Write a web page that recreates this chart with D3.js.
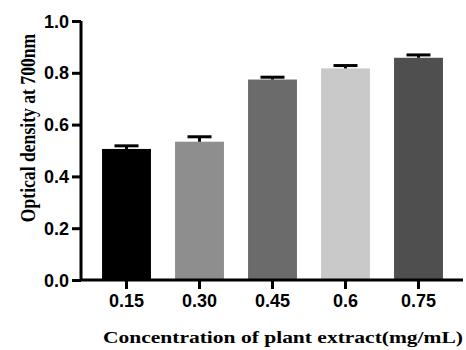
<!DOCTYPE html>
<html>
<head>
<meta charset="utf-8">
<script src="https://cdn.jsdelivr.net/npm/d3@7"></script>
<style>
  body { margin: 0; background: #fff; }
  .tick text { font-family: "Liberation Sans", Arial, sans-serif; font-weight: bold; font-size: 18px; fill: #000; }
  .title { font-family: "Liberation Serif", "Times New Roman", serif; font-weight: bold; font-size: 21.5px; }
</style>
</head>
<body>
<div id="chart"></div>
<script>
const categories = ['0.15', '0.30', '0.45', '0.6', '0.75'];
const values = [0.506, 0.534, 0.774, 0.817, 0.858];
const errors = [0.012, 0.019, 0.009, 0.011, 0.011];
const colors = ['#000000', '#8e8e8e', '#6b6b6b', '#c9c9c9', '#4f4f4f'];
const yTicks = [0, 0.2, 0.4, 0.6, 0.8, 1.0];

const width = 466;
const height = 350;
const plotLeft = 81;
const plotRight = 463;
const plotTop = 21;
const plotBottom = 280;

const svg = d3.select('#chart').append('svg').attr('width', width).attr('height', height);

const x = d3.scaleBand().domain(categories).range([plotLeft + 9, plotRight - 8]).paddingInner(0.33).paddingOuter(0.165);
const y = d3.scaleLinear().domain([0, 1]).range([plotBottom, plotTop]);

// bars
svg.selectAll('rect.bar')
  .data(values)
  .enter()
  .append('rect')
  .attr('class', 'bar')
  .attr('x', (d, i) => x(categories[i]))
  .attr('y', (d) => y(d))
  .attr('width', x.bandwidth())
  .attr('height', (d) => y(0) - y(d))
  .attr('fill', (d, i) => colors[i]);

// error bars (upper only)
const err = svg.selectAll('g.err')
  .data(values)
  .enter()
  .append('g')
  .attr('class', 'err')
  .attr('transform', (d, i) => 'translate(' + (x(categories[i]) + x.bandwidth() / 2) + ',0)');

err.append('line')
  .attr('x1', 0).attr('x2', 0)
  .attr('y1', (d) => y(d))
  .attr('y2', (d, i) => y(d + errors[i]))
  .attr('stroke', '#000').attr('stroke-width', 3);

err.append('line')
  .attr('x1', -12).attr('x2', 12)
  .attr('y1', (d, i) => y(d + errors[i]))
  .attr('y2', (d, i) => y(d + errors[i]))
  .attr('stroke', '#000').attr('stroke-width', 3);

// y axis
svg.append('g')
  .attr('transform', 'translate(' + plotLeft + ',0)')
  .call(d3.axisLeft(y).tickValues(yTicks).tickFormat(d3.format('.1f')).tickSize(9).tickPadding(3))
  .call((g) => g.select('.domain').attr('stroke-width', 3).attr('d', 'M0,' + plotTop + 'V' + plotBottom))
  .call((g) => g.selectAll('.tick line').attr('stroke-width', 3))
  .call((g) => g.selectAll('.tick text').attr('dy', '0.34em'));

// x axis
svg.append('g')
  .attr('transform', 'translate(0,' + plotBottom + ')')
  .call(d3.axisBottom(x).tickSize(9).tickPadding(5))
  .call((g) => g.select('.domain').attr('stroke-width', 3).attr('d', 'M' + plotLeft + ',0H' + plotRight))
  .call((g) => g.selectAll('.tick line').attr('stroke-width', 3));

// titles (source image is slightly squashed vertically)
svg.append('text')
  .attr('class', 'title')
  .attr('transform', 'translate(283,343) scale(1,0.82)')
  .attr('text-anchor', 'middle')
  .text('Concentration of plant extract(mg/mL)');

svg.append('text')
  .attr('class', 'title')
  .attr('transform', 'translate(35,128) rotate(-90) scale(0.82,1)')
  .attr('text-anchor', 'middle')
  .text('Optical density at 700nm');
</script>
</body>
</html>
